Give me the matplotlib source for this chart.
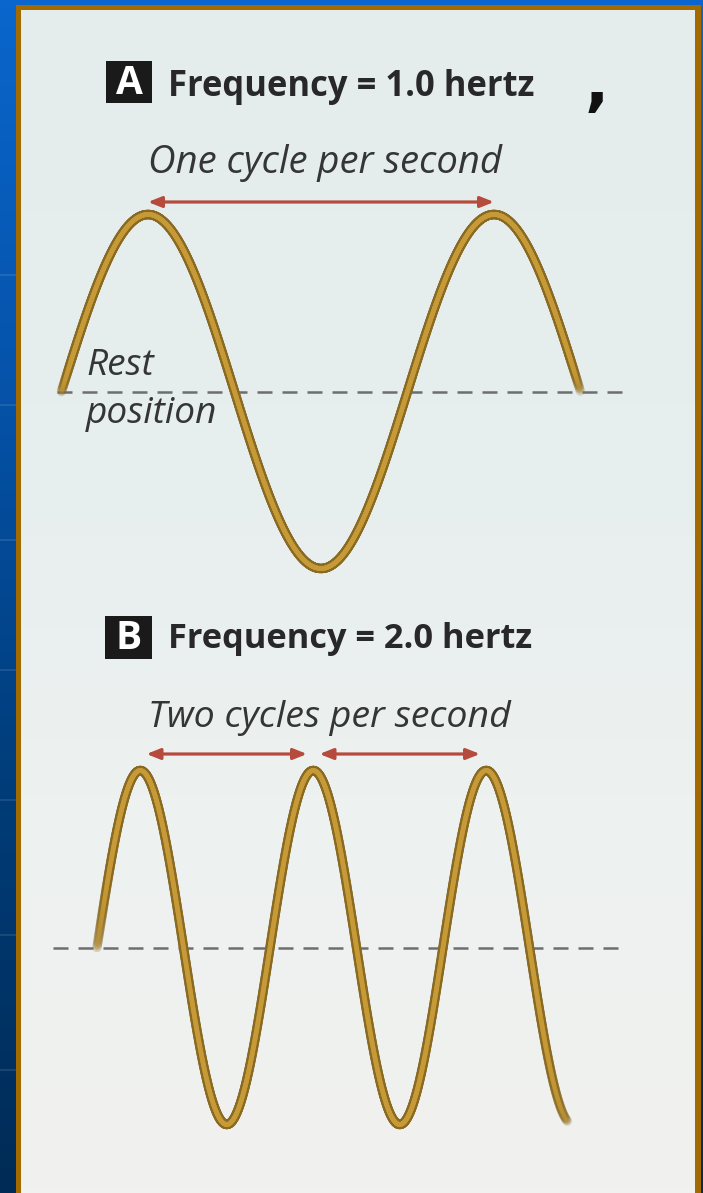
import numpy as np
import matplotlib
matplotlib.use('Agg')
import matplotlib.pyplot as plt
from matplotlib.patches import Rectangle
from matplotlib.collections import LineCollection
from matplotlib.colors import LinearSegmentedColormap, to_rgba

# ---------------- data ----------------
panel_letters = ['A', 'B']
frequencies_hz = [1.0, 2.0]
titles = ['Frequency = 1.0 hertz', 'Frequency = 2.0 hertz']
cycle_labels = ['One cycle per second', 'Two cycles per second']
wave_start_s = [0.0, 0.0]
wave_end_s = [1.5, 1.36]
rest_line_start_s = [-0.013, -0.127]
rest_line_end_s = [1.637, 1.517]
arrow_counts = [1, 2]
rest_label = 'Rest\nposition'

# ---------------- layout ----------------
W, H, DPI = 703, 1193, 100
PX_PER_S = 346.0
AMP_PX = 177.0
panel_layout = [
    dict(t0_px=61.5, y0_px=391.5, top=30, bottom=600, box=(106, 61, 46, 42),
         title_y=87, sub_y=163, arrow_y=202, shrink=0),
    dict(t0_px=97.0, y0_px=947.5, top=600, bottom=1193, box=(105, 616, 47, 43),
         title_y=639, sub_y=718, arrow_y=754, shrink=4.5),
]
title_widths = [365, 363]
sub_widths = [354, 362]

WAVE_DARK = '#8A6A22'
WAVE_GOLD = '#C69A36'
ARROW_COL = '#B64A3C'
DASH_COL = '#6E6E6E'

plt.rcParams['lines.scale_dashes'] = False
plt.rcParams['font.family'] = ['Open Sans', 'DejaVu Sans']

fig = plt.figure(figsize=(W / DPI, H / DPI), dpi=DPI)


def px_axes(x0, y0, x1, y1):
    return fig.add_axes([x0 / W, 1 - y1 / H, (x1 - x0) / W, (y1 - y0) / H])


bg = px_axes(0, 0, W, H)
bg.set_xlim(0, W)
bg.set_ylim(H, 0)
bg.axis('off')

grad = np.linspace(0, 1, 256)[:, None]
blue_cmap = LinearSegmentedColormap.from_list('b', ['#0A66CC', '#0552A8', '#003C78', '#002B56'])
bg.imshow(grad, cmap=blue_cmap, extent=[0, W, H, 0], aspect='auto', zorder=0,
          interpolation='bilinear')
for yy in [275, 405, 540, 670, 800, 935, 1070]:
    bg.plot([0, 16], [yy, yy], color='white', alpha=0.12, lw=1.2, zorder=1)

bg.add_patch(Rectangle((16, 5), 685, H, facecolor='#A36A00', edgecolor='none', zorder=2))
panel_cmap = LinearSegmentedColormap.from_list('p', ['#E4ECEC', '#E6EEEE', '#EDF1F0', '#F1F1EF'])
bg.imshow(grad, cmap=panel_cmap, extent=[21, 695, H, 10], aspect='auto', zorder=3,
          interpolation='bilinear')

# stray ink mark near the top title
bg.text(597, 104, ',', fontsize=46, fontweight='bold', color='#111111',
        family='DejaVu Sans', ha='center', va='baseline', zorder=5)


def faded_line(ax, t, y, color, lw, fade_in, fade_out, z):
    pts = np.column_stack([t, y])
    segs = np.stack([pts[:-1], pts[1:]], axis=1)
    tm = 0.5 * (t[:-1] + t[1:])
    a = np.ones_like(tm)
    if fade_in[1] > fade_in[0]:
        a = np.minimum(a, np.clip(0.25 + 0.75 * (tm - fade_in[0]) / (fade_in[1] - fade_in[0]), 0, 1))
    if fade_out[1] > fade_out[0]:
        a = np.minimum(a, np.clip(1 - 0.9 * (tm - fade_out[0]) / (fade_out[1] - fade_out[0]), 0.05, 1))
    cols = [to_rgba(color, alpha) for alpha in a]
    lc = LineCollection(segs, colors=cols, linewidths=lw, capstyle='round', zorder=z)
    ax.add_collection(lc)


texts_to_fit = []
for i, L in enumerate(panel_layout):
    f = frequencies_hz[i]
    ax = px_axes(21, L['top'], 695, L['bottom'])
    ax.set_xlim((21 - L['t0_px']) / PX_PER_S, (695 - L['t0_px']) / PX_PER_S)
    ax.set_ylim(-(L['bottom'] - L['y0_px']) / AMP_PX, (L['y0_px'] - L['top']) / AMP_PX)
    ax.axis('off')
    ax.patch.set_alpha(0)

    # rest position
    ax.plot([rest_line_start_s[i], rest_line_end_s[i]], [0, 0], color=DASH_COL, lw=1.8,
            dashes=(10.8, 7.2), zorder=2)

    # wave
    t = np.linspace(wave_start_s[i], wave_end_s[i], 1200)
    y = np.sin(2 * np.pi * f * t)
    if i == 0:
        fi, fo = (wave_start_s[i], wave_start_s[i] + 0.03), (1.47, 1.5)
    else:
        fi, fo = (wave_start_s[i], wave_start_s[i] + 0.04), (1.28, wave_end_s[i])
    faded_line(ax, t, y, WAVE_DARK, 6.8, fi, fo, 3)
    faded_line(ax, t, y, WAVE_GOLD, 3.4, fi, fo, 4)

    # period arrows (peak to peak)
    ya = (L['y0_px'] - L['arrow_y']) / AMP_PX
    for k in range(arrow_counts[i]):
        t1 = (0.25 + k) / f
        t2 = (1.25 + k) / f
        ax.annotate('', xy=(t2, ya), xytext=(t1, ya),
                    arrowprops=dict(arrowstyle='<|-|>,head_length=0.8,head_width=0.32',
                                    color=ARROW_COL, lw=2.3,
                                    shrinkA=L['shrink'], shrinkB=L['shrink']), zorder=5)

    # letter box + titles
    bx, by, bw, bh = L['box']
    bg.add_patch(Rectangle((bx, by), bw, bh, facecolor='#1A1A1A', edgecolor='none', zorder=6))
    bg.text(bx + bw / 2, by + bh / 2 + 1, panel_letters[i], color='white', fontsize=28,
            fontweight='bold', ha='center', va='center', zorder=7)
    tt = bg.text(168, L['title_y'], titles[i], color='#282828', fontsize=22,
                 fontweight='bold', ha='left', va='center', zorder=7)
    texts_to_fit.append((tt, title_widths[i]))
    st = bg.text(148, L['sub_y'], cycle_labels[i], color='#353535', fontsize=22,
                 fontstyle='italic', ha='left', va='center', zorder=7)
    texts_to_fit.append((st, sub_widths[i]))

rl = bg.text(86, 390, rest_label, color='#353535', fontsize=20, fontstyle='italic',
             ha='left', va='center', linespacing=1.45, zorder=7)

fig.canvas.draw()
r = fig.canvas.get_renderer()
for txt, target in texts_to_fit:
    w = txt.get_window_extent(r).width
    txt.set_fontsize(txt.get_fontsize() * target / w)
w = rl.get_window_extent(r).width
rl.set_fontsize(rl.get_fontsize() * 131 / w)

fig.savefig('out.png', dpi=DPI)
